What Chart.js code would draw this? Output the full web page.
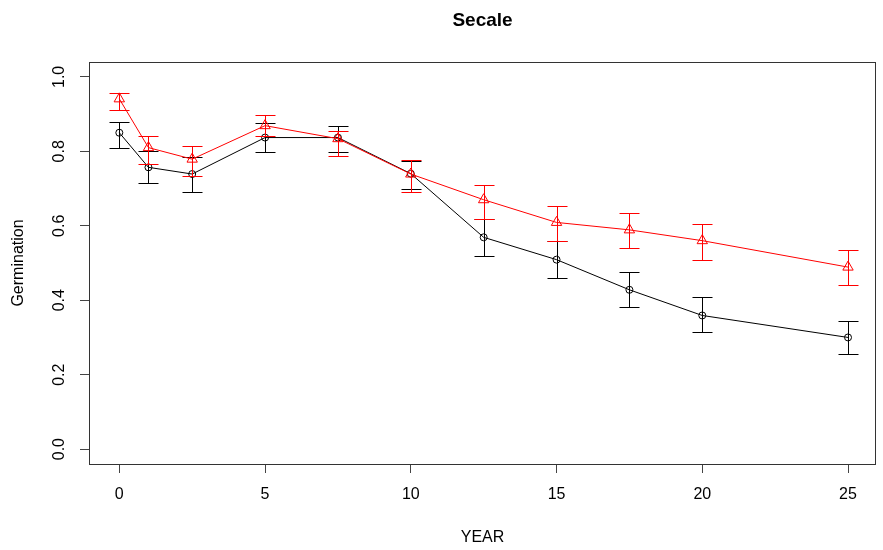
<!DOCTYPE html>
<html>
<head>
<meta charset="utf-8">
<script src="https://cdn.jsdelivr.net/npm/chart.js@4"></script>
<style>
  html, body { margin: 0; padding: 0; background: #fff; }
  #c { display: block; }
</style>
</head>
<body>
<canvas id="c" width="883" height="550"></canvas>
<script>
const chartTitle = "Secale";
const xTitle = "YEAR";
const yTitle = "Germination";

const years = [0, 1, 2.5, 5, 7.5, 10, 12.5, 15, 17.5, 20, 25];

const blackVals = [0.85, 0.757, 0.739, 0.837, 0.837, 0.74, 0.569, 0.509, 0.428, 0.359, 0.30];
const blackLo   = [0.809, 0.715, 0.692, 0.797, 0.797, 0.70, 0.52, 0.459, 0.383, 0.314, 0.256];
const blackHi   = [0.88, 0.80, 0.786, 0.877, 0.869, 0.775, 0.619, 0.558, 0.476, 0.408, 0.344];

const redVals = [0.941, 0.81, 0.779, 0.869, 0.834, 0.739, 0.67, 0.609, 0.589, 0.56, 0.489];
const redLo   = [0.911, 0.766, 0.735, 0.84, 0.788, 0.692, 0.619, 0.558, 0.54, 0.509, 0.44];
const redHi   = [0.956, 0.842, 0.815, 0.898, 0.855, 0.777, 0.71, 0.654, 0.634, 0.605, 0.536];

const xTicks = [0, 5, 10, 15, 20, 25];
const yTicks = [0, 0.2, 0.4, 0.6, 0.8, 1.0];
const yTickLabels = ["0.0", "0.2", "0.4", "0.6", "0.8", "1.0"];

const FONT = "'Liberation Sans', Arial, sans-serif";

function pts(vals) { return years.map((x, i) => ({ x: x, y: vals[i] })); }

const errorBars = {
  0: { lo: redLo, hi: redHi, color: '#ff0000' },
  1: { lo: blackLo, hi: blackHi, color: '#000000' }
};

const rPlugin = {
  id: 'rstyle',
  afterDatasetDraw(chart, args) {
    const eb = errorBars[args.index];
    if (!eb) return;
    const ctx = chart.ctx, xs = chart.scales.x, ys = chart.scales.y;
    ctx.save();
    ctx.strokeStyle = eb.color;
    ctx.lineWidth = 1;
    const half = 10;
    years.forEach((x, i) => {
      const px = Math.round(xs.getPixelForValue(x)) + 0.5;
      const pl = Math.round(ys.getPixelForValue(eb.lo[i])) + 0.5;
      const ph = Math.round(ys.getPixelForValue(eb.hi[i])) + 0.5;
      ctx.beginPath();
      ctx.moveTo(px, pl); ctx.lineTo(px, ph);
      ctx.moveTo(px - half, pl); ctx.lineTo(px + half, pl);
      ctx.moveTo(px - half, ph); ctx.lineTo(px + half, ph);
      ctx.stroke();
    });
    ctx.restore();
  },
  afterDraw(chart) {
    const ctx = chart.ctx, a = chart.chartArea, ys = chart.scales.y;
    ctx.save();
    // box
    ctx.strokeStyle = '#333';
    ctx.lineWidth = 1;
    ctx.strokeRect(Math.round(a.left) + 0.5, Math.round(a.top) + 0.5,
                   Math.round(a.right - a.left) - 1, Math.round(a.bottom - a.top));
    ctx.fillStyle = '#000';
    // title
    ctx.font = "bold 19px " + FONT;
    ctx.textAlign = 'center';
    ctx.textBaseline = 'middle';
    const cx = (a.left + a.right) / 2;
    ctx.fillText(chartTitle, cx, 21);
    // x title
    ctx.font = "16px " + FONT;
    ctx.fillText(xTitle, cx, 538);
    // y tick labels (rotated like R)
    yTicks.forEach((v, i) => {
      const py = ys.getPixelForValue(v);
      ctx.save();
      ctx.translate(60, py);
      ctx.rotate(-Math.PI / 2);
      ctx.fillText(yTickLabels[i], 0, 0);
      ctx.restore();
    });
    // y title
    ctx.save();
    ctx.translate(19, (a.top + a.bottom) / 2);
    ctx.rotate(-Math.PI / 2);
    ctx.fillText(yTitle, 0, 0);
    ctx.restore();
    ctx.restore();
  }
};

new Chart(document.getElementById('c'), {
  type: 'line',
  data: {
    datasets: [
      {
        label: 'red',
        data: pts(redVals),
        borderColor: '#ff0000',
        backgroundColor: 'rgba(0,0,0,0)',
        borderWidth: 1,
        pointStyle: 'triangle',
        pointRadius: 6,
        pointBorderWidth: 1,
        pointBorderColor: '#ff0000',
        pointBackgroundColor: 'rgba(0,0,0,0)',
        tension: 0,
        fill: false
      },
      {
        label: 'black',
        data: pts(blackVals),
        borderColor: '#000000',
        backgroundColor: 'rgba(0,0,0,0)',
        borderWidth: 1,
        pointStyle: 'circle',
        pointRadius: 3.5,
        pointBorderWidth: 1,
        pointBorderColor: '#000000',
        pointBackgroundColor: 'rgba(0,0,0,0)',
        tension: 0,
        fill: false
      }
    ]
  },
  options: {
    responsive: false,
    animation: false,
    devicePixelRatio: 1,
    layout: { padding: { top: 62, right: 1, left: 0, bottom: 0 } },
    plugins: { legend: { display: false }, title: { display: false }, tooltip: { enabled: false } },
    scales: {
      x: {
        type: 'linear',
        min: -1.04,
        max: 25.96,
        afterBuildTicks(s) { s.ticks = xTicks.map(v => ({ value: v })); },
        afterFit(s) { s.height = 86; },
        grid: { display: true, drawOnChartArea: false, drawTicks: true, tickLength: 9, color: '#444', lineWidth: 1 },
        border: { display: false },
        ticks: { color: '#000', font: { size: 16, family: FONT }, padding: 12, maxRotation: 0, minRotation: 0,
                 callback: v => String(v) }
      },
      y: {
        type: 'linear',
        min: -0.04,
        max: 1.04,
        afterBuildTicks(s) { s.ticks = yTicks.map(v => ({ value: v })); },
        afterFit(s) { s.width = 89; },
        grid: { display: true, drawOnChartArea: false, drawTicks: true, tickLength: 9, color: '#444', lineWidth: 1 },
        border: { display: false },
        ticks: { display: false }
      }
    }
  },
  plugins: [rPlugin]
});
</script>
</body>
</html>
